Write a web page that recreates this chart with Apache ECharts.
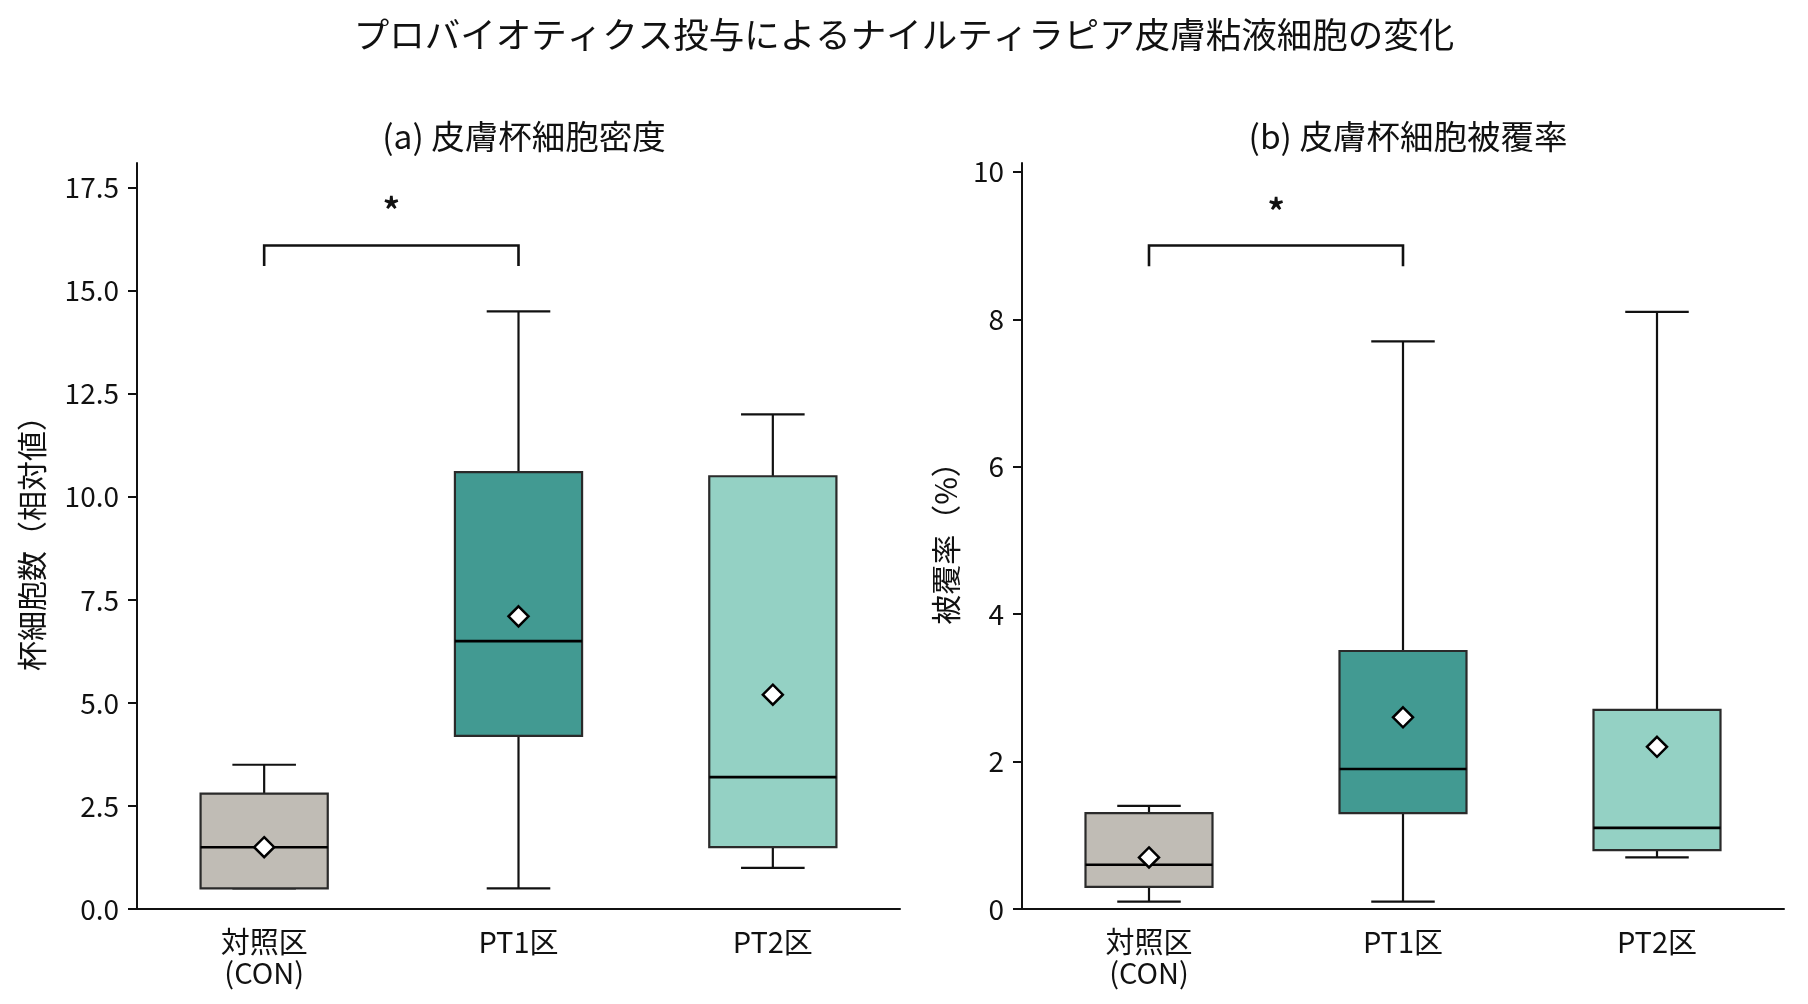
<!DOCTYPE html>
<html>
<head>
<meta charset="utf-8">
<script src="https://cdn.jsdelivr.net/npm/echarts@6/dist/echarts.min.js"></script>
<style>
  html, body { margin: 0; padding: 0; background: #fff; }
  #chart { width: 1808px; height: 1004px; }
</style>
</head>
<body>
<div id="chart"></div>
<script>
var categories = ['対照区\n(CON)', 'PT1区', 'PT2区'];
var boxColors = ['#c0bcb5', '#429a92', '#94d1c4'];

// [min, Q1, median, Q3, max]
var densityBox = [
  [0.5, 0.5, 1.5, 2.8, 3.5],
  [0.5, 4.2, 6.5, 10.6, 14.5],
  [1.0, 1.5, 3.2, 10.5, 12.0]
];
var densityMean = [1.5, 7.1, 5.2];
var densityTicks = [0, 2.5, 5, 7.5, 10, 12.5, 15, 17.5];
var densityMax = 18.1;
// [from, to, bar y, leg end y, star y]
var densitySig = [0, 1, 16.1, 15.6, 16.95];

var coverBox = [
  [0.1, 0.3, 0.6, 1.3, 1.4],
  [0.1, 1.3, 1.9, 3.5, 7.7],
  [0.7, 0.8, 1.1, 2.7, 8.1]
];
var coverMean = [0.7, 2.6, 2.2];
var coverTicks = [0, 2, 4, 6, 8, 10];
var coverMax = 10.12;
var coverSig = [0, 1, 9.0, 8.72, 9.47];

var FONT = '"Noto Sans CJK JP", "Noto Sans", sans-serif';

var chart = echarts.init(document.getElementById('chart'));

function boxData(rows) {
  var out = [];
  for (var i = 0; i < rows.length; i++) {
    out.push([i].concat(rows[i]));
  }
  return out;
}

function meanData(vals) {
  var out = [];
  for (var i = 0; i < vals.length; i++) out.push([i, vals[i]]);
  return out;
}

// box + whiskers drawn on the axis scales
function renderBox(params, api) {
  var idx = api.value(0);
  var band = api.size([1, 0])[0];
  var halfBox = band * 0.25;
  var halfCap = band * 0.125;
  var pMin = api.coord([idx, api.value(1)]);
  var pQ1 = api.coord([idx, api.value(2)]);
  var pMed = api.coord([idx, api.value(3)]);
  var pQ3 = api.coord([idx, api.value(4)]);
  var pMax = api.coord([idx, api.value(5)]);
  var x = pMed[0];
  var line = { stroke: '#111', lineWidth: 2.2 };
  return {
    type: 'group',
    children: [
      { type: 'line', shape: { x1: x, y1: pQ3[1], x2: x, y2: pMax[1] }, style: line },
      { type: 'line', shape: { x1: x, y1: pQ1[1], x2: x, y2: pMin[1] }, style: line },
      { type: 'line', shape: { x1: x - halfCap, y1: pMax[1], x2: x + halfCap, y2: pMax[1] }, style: line },
      { type: 'line', shape: { x1: x - halfCap, y1: pMin[1], x2: x + halfCap, y2: pMin[1] }, style: line },
      {
        type: 'rect',
        shape: { x: x - halfBox, y: pQ3[1], width: halfBox * 2, height: pQ1[1] - pQ3[1] },
        style: { fill: boxColors[idx], stroke: '#2a2a2a', lineWidth: 2.2 }
      },
      { type: 'line', shape: { x1: x - halfBox, y1: pMed[1], x2: x + halfBox, y2: pMed[1] }, style: { stroke: '#000', lineWidth: 2.6 } }
    ]
  };
}

function renderSig(params, api) {
  var a = api.coord([api.value(0), api.value(2)]);
  var b = api.coord([api.value(1), api.value(2)]);
  var legA = api.coord([api.value(0), api.value(3)]);
  var starY = api.coord([api.value(0), api.value(4)])[1];
  return {
    type: 'group',
    children: [
      {
        type: 'polyline',
        shape: { points: [[a[0], legA[1]], [a[0], a[1]], [b[0], b[1]], [b[0], legA[1]]] },
        style: { stroke: '#111', lineWidth: 2.6, fill: null }
      },
      {
        type: 'text',
        style: {
          x: (a[0] + b[0]) / 2, y: starY, text: '*', align: 'center', verticalAlign: 'middle',
          fontSize: 34, fontWeight: 'bold', fontFamily: FONT, fill: '#111'
        }
      }
    ]
  };
}

function xAxisCfg(gi) {
  return {
    type: 'category', gridIndex: gi, data: categories,
    axisLine: { lineStyle: { color: '#111', width: 2 } },
    axisTick: { alignWithLabel: true, length: 9, lineStyle: { color: '#111', width: 2 } },
    axisLabel: { color: '#111', fontSize: 29, fontFamily: FONT, margin: 17, lineHeight: 31 }
  };
}

function yAxisCfg(gi, max, ticks, name, gap, decimals) {
  return {
    type: 'value', gridIndex: gi, min: 0, max: max,
    name: name, nameLocation: 'middle', nameRotate: 90, nameGap: gap,
    nameTextStyle: { color: '#111', fontSize: 30, fontFamily: FONT },
    splitLine: { show: false },
    axisLine: { show: true, lineStyle: { color: '#111', width: 2 } },
    axisTick: { show: true, length: 9, lineStyle: { color: '#111', width: 2 }, customValues: ticks },
    axisLabel: {
      color: '#111', fontSize: 28, fontFamily: FONT, margin: 18, customValues: ticks,
      formatter: function (v) { return v.toFixed(decimals); }
    }
  };
}

var option = {
  backgroundColor: '#fff',
  animation: false,
  title: [
    { text: 'プロバイオティクス投与によるナイルティラピア皮膚粘液細胞の変化', left: 'center', top: 12,
      textStyle: { fontSize: 35.5, fontWeight: 'normal', color: '#111', fontFamily: FONT } },
    { text: '(a) 皮膚杯細胞密度', left: 519, top: 115, textAlign: 'center',
      textStyle: { fontSize: 33.5, fontWeight: 'normal', color: '#111', fontFamily: FONT } },
    { text: '(b) 皮膚杯細胞被覆率', left: 1403, top: 115, textAlign: 'center',
      textStyle: { fontSize: 33.5, fontWeight: 'normal', color: '#111', fontFamily: FONT } }
  ],
  grid: [
    { left: 137, right: 908, top: 163, bottom: 95 },
    { left: 1022, right: 24, top: 163, bottom: 95 }
  ],
  xAxis: [xAxisCfg(0), xAxisCfg(1)],
  yAxis: [
    yAxisCfg(0, densityMax, densityTicks, '杯細胞数（相対値）', 90, 1),
    yAxisCfg(1, coverMax, coverTicks, '被覆率（%）', 61, 0)
  ],
  series: [
    { type: 'custom', xAxisIndex: 0, yAxisIndex: 0, clip: false, renderItem: renderBox, data: boxData(densityBox), z: 2 },
    { type: 'custom', xAxisIndex: 1, yAxisIndex: 1, clip: false, renderItem: renderBox, data: boxData(coverBox), z: 2 },
    { type: 'scatter', xAxisIndex: 0, yAxisIndex: 0, data: meanData(densityMean), symbol: 'diamond', symbolSize: 20,
      itemStyle: { color: '#fff', borderColor: '#000', borderWidth: 2.5, opacity: 1 }, z: 5 },
    { type: 'scatter', xAxisIndex: 1, yAxisIndex: 1, data: meanData(coverMean), symbol: 'diamond', symbolSize: 20,
      itemStyle: { color: '#fff', borderColor: '#000', borderWidth: 2.5, opacity: 1 }, z: 5 },
    { type: 'custom', xAxisIndex: 0, yAxisIndex: 0, clip: false, renderItem: renderSig, data: [densitySig], z: 3 },
    { type: 'custom', xAxisIndex: 1, yAxisIndex: 1, clip: false, renderItem: renderSig, data: [coverSig], z: 3 }
  ]
};

chart.setOption(option);
</script>
</body>
</html>
